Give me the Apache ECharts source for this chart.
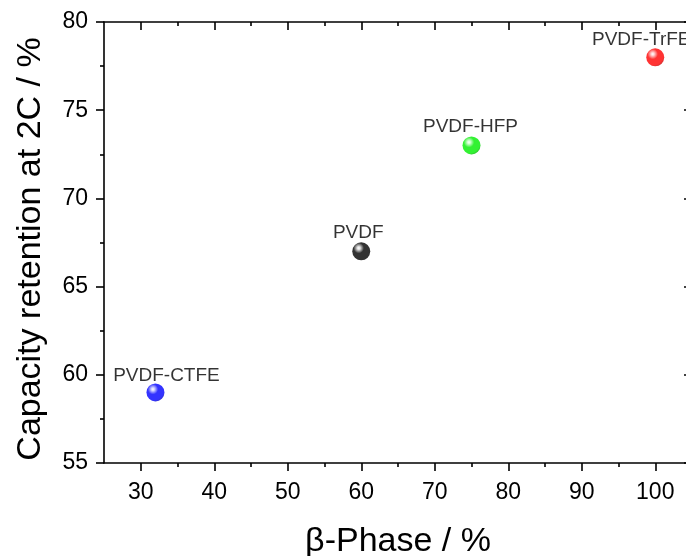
<!DOCTYPE html>
<html>
<head>
<meta charset="utf-8">
<script src="https://cdn.jsdelivr.net/npm/echarts@6/dist/echarts.min.js"></script>
<style>
  html, body { margin: 0; padding: 0; background: #fff; }
  #chart { width: 686px; height: 556px; }
</style>
</head>
<body>
<div id="chart"></div>
<script>
// Copolymer data: beta-phase fraction vs. capacity retention at 2C
const polymerNames = ['PVDF-CTFE', 'PVDF', 'PVDF-HFP', 'PVDF-TrFE'];
const betaPhase = [32, 60, 75, 100];
const capacityRetention = [59, 67, 73, 78];
const pointColors = ['#0000ff', '#000000', '#00ee00', '#ff0000'];
const pointShades = ['#0000c8', '#000000', '#00b400', '#cc0000'];
const pointHighlights = ['#c8c8ff', '#d8d8d8', '#c8ffc8', '#ffc8c8'];

const xTickValues = [30, 40, 50, 60, 70, 80, 90, 100];
const xMinorTickValues = [35, 45, 55, 65, 75, 85, 95];
const yTickValues = [55, 60, 65, 70, 75, 80];

// label nudges so each name sits over its sphere
const labelOffsets = {
  'PVDF-CTFE': [11, -17],
  'PVDF': [-3, -19],
  'PVDF-HFP': [-1, -19],
  'PVDF-TrFE': [-14, -18]
};

const FONT = '"Liberation Sans", Arial, sans-serif';
const AXIS_COLOR = '#000';
const LINE_W = 1.6;

// plot frame runs a little past the right edge of the canvas
const gridRect = { left: 104, top: 22, width: 588, height: 441, outerBoundsMode: 'none', containLabel: false };

const points = polymerNames.map((name, i) => ({
  name: name,
  value: [betaPhase[i], capacityRetention[i]],
  itemStyle: {
    color: {
      type: 'radial', x: 0.36, y: 0.32, r: 0.72,
      colorStops: [
        { offset: 0, color: '#ffffff' },
        { offset: 0.12, color: pointHighlights[i] },
        { offset: 0.4, color: pointColors[i] },
        { offset: 0.85, color: pointColors[i] },
        { offset: 1, color: pointShades[i] }
      ]
    }
  },
  label: { offset: labelOffsets[name] }
}));

const lineStyle = { color: AXIS_COLOR, width: LINE_W };

const option = {
  animation: false,
  backgroundColor: '#fff',
  grid: [
    Object.assign({}, gridRect),
    Object.assign({}, gridRect)
  ],
  xAxis: [
    {
      type: 'value', gridIndex: 0, position: 'bottom',
      min: 25, max: 105,
      name: 'β-Phase / %', nameLocation: 'middle', nameGap: 62,
      nameTextStyle: { fontFamily: FONT, fontSize: 34, color: '#000' },
      axisLine: { show: true, onZero: false, lineStyle: lineStyle },
      axisTick: { show: true, inside: false, length: 8, customValues: xTickValues, lineStyle: lineStyle },
      axisLabel: { show: true, customValues: xTickValues, margin: 18, fontFamily: FONT, fontSize: 23, color: '#000' },
      splitLine: { show: false }
    },
    {
      type: 'value', gridIndex: 0, position: 'top',
      min: 25, max: 105,
      axisLine: { show: true, onZero: false, lineStyle: lineStyle },
      axisTick: { show: true, inside: true, length: 8, customValues: xTickValues, lineStyle: lineStyle },
      axisLabel: { show: false },
      splitLine: { show: false }
    },
    {
      type: 'value', gridIndex: 1, position: 'bottom',
      min: 25, max: 105,
      axisLine: { show: false, onZero: false },
      axisTick: { show: true, inside: false, length: 4, customValues: xMinorTickValues, lineStyle: lineStyle },
      axisLabel: { show: false },
      splitLine: { show: false }
    },
    {
      type: 'value', gridIndex: 1, position: 'top',
      min: 25, max: 105,
      axisLine: { show: false, onZero: false },
      axisTick: { show: true, inside: true, length: 4, customValues: xMinorTickValues, lineStyle: lineStyle },
      axisLabel: { show: false },
      splitLine: { show: false }
    }
  ],
  yAxis: [
    {
      type: 'value', gridIndex: 0, position: 'left',
      min: 55, max: 80, interval: 5,
      name: 'Capacity retention at 2C / %', nameLocation: 'middle', nameGap: 56, nameRotate: 90,
      nameTextStyle: { fontFamily: FONT, fontSize: 34, color: '#000', padding: [0, 13, 0, 0] },
      axisLine: { show: true, onZero: false, lineStyle: lineStyle },
      axisTick: { show: true, inside: false, length: 8, lineStyle: lineStyle },
      minorTick: { show: true, splitNumber: 2, length: 4, lineStyle: lineStyle },
      axisLabel: { show: true, customValues: yTickValues, margin: 16, fontFamily: FONT, fontSize: 23, color: '#000' },
      splitLine: { show: false }
    },
    {
      type: 'value', gridIndex: 0, position: 'right',
      min: 55, max: 80, interval: 5,
      axisLine: { show: true, onZero: false, lineStyle: lineStyle },
      axisTick: { show: true, inside: true, length: 8, lineStyle: lineStyle },
      minorTick: { show: true, splitNumber: 2, length: 4, lineStyle: lineStyle },
      axisLabel: { show: false },
      splitLine: { show: false }
    },
    {
      type: 'value', gridIndex: 1, show: false,
      min: 55, max: 80
    }
  ],
  series: [
    {
      type: 'scatter',
      xAxisIndex: 0, yAxisIndex: 0,
      symbol: 'circle',
      symbolSize: 18,
      data: points,
      label: {
        show: true,
        position: 'inside',
        formatter: '{b}',
        fontFamily: FONT,
        fontSize: 19,
        color: '#000',
        textBorderWidth: 0
      },
      emphasis: { disabled: true }
    }
  ]
};

const chart = echarts.init(document.getElementById('chart'), null, { renderer: 'canvas' });
chart.setOption(option);
</script>
</body>
</html>
